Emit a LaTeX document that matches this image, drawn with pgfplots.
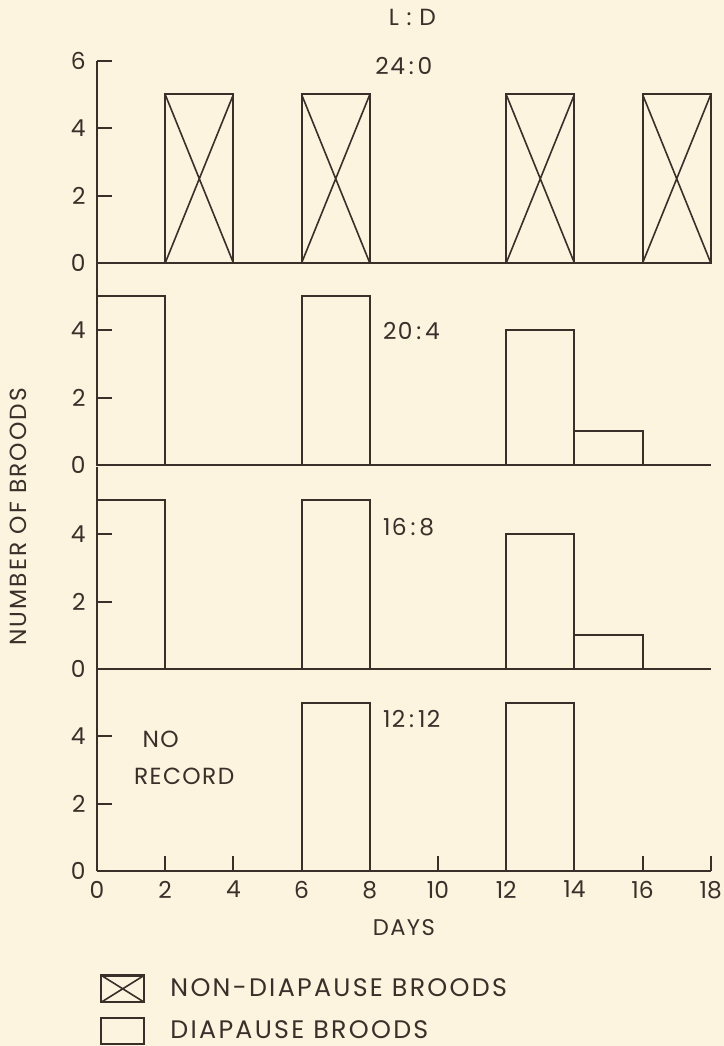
\documentclass[border=0pt]{standalone}
\usepackage{fontspec}
\setmainfont{Poppins}
\newfontfamily\spaced{Poppins}[LetterSpace=6]
\newfontfamily\wide{Poppins}[LetterSpace=9]
\usepackage{pgfplots}
\pgfplotsset{compat=1.18}
\definecolor{ink}{HTML}{3A302A}
\definecolor{paper}{HTML}{FCF4DF}
\tikzset{lab/.style={font=\spaced\fontsize{17.5}{20}\selectfont, text=ink}}
\begin{document}
\begin{tikzpicture}
\path[use as bounding box, fill=paper] (0,0) rectangle (543pt,784.5pt);
\pgfplotsset{
 panel/.style={
  x=25.575pt, y=25.275pt,
  xmin=0,xmax=18,ymin=0,ymax=6,
  axis x line*=bottom, axis y line*=left,
  axis line style={draw=ink, line width=1.6pt, -},
  tick align=inside,
  major tick length=11pt,
  tick style={draw=ink, line width=1.4pt},
  xtick=\empty, ytick={0,2,4},
  ticklabel style={font=\fontsize{17.5}{20}\selectfont, text=ink},
  /pgf/number format/assume math mode=true,
  yticklabel style={xshift=-5pt},
  clip=false,
  anchor=south west,
 },
 bars/.style={ybar, bar width=2, draw=ink, fill=none, line width=1.5pt},
 crosses/.style={draw=ink, line width=1.2pt, unbounded coords=jump},
}
% Panel 1: 24:0
\begin{axis}[panel, at={(72.75pt,587.25pt)}, ytick={0,2,4,6}]
\addplot[bars] coordinates {(3,5) (7,5) (13,5) (17,5)};
\addplot[crosses] coordinates {(2,0) (4,5) (3,nan) (2,5) (4,0) (3,nan)
 (6,0) (8,5) (7,nan) (6,5) (8,0) (7,nan)
 (12,0) (14,5) (13,nan) (12,5) (14,0) (13,nan)
 (16,0) (18,5) (17,nan) (16,5) (18,0)};
\node[lab] at (axis cs:9.0,5.85) {24\,:\,0};
\node[lab] at (axis cs:9.25,7.3) {L\,\,:\,\,D};
\end{axis}
% Panel 2: 20:4
\begin{axis}[panel, at={(72.75pt,435.75pt)}]
\addplot[bars] coordinates {(1,5) (7,5) (13,4) (15,1)};
\node[lab, anchor=west] at (axis cs:8.25,3.98) {20\,:\,4};
\end{axis}
% Panel 3: 16:8
\begin{axis}[panel, at={(72.75pt,282.75pt)},
 ylabel={NUMBER OF BROODS},
 ylabel style={at={(axis description cs:-0.1287,0.752)}, anchor=center, font=\wide\fontsize{17.5}{20}\selectfont, text=ink}]
\addplot[bars] coordinates {(1,5) (7,5) (13,4) (15,1)};
\node[lab, anchor=west] at (axis cs:8.25,4.2) {16\,:\,8};
\end{axis}
% Panel 4: 12:12
\begin{axis}[panel, at={(72.75pt,131.25pt)},
 xtick={0,2,...,18},
 xticklabel style={yshift=-4pt},
 xlabel={DAYS},
 xlabel style={at={(axis description cs:0.5,-0.282)}, anchor=center, font=\spaced\fontsize{17}{20}\selectfont, text=ink},
 legend style={at={(axis description cs:0.005,-0.51)}, anchor=north west, draw=none, fill=none, inner sep=0pt,
   font=\wide\fontsize{19}{22}\selectfont, text=ink, row sep=10pt, legend cell align=left},
]
\addplot[bars, forget plot] coordinates {(7,5) (13,5)};
\addlegendimage{legend image code/.code={
  \draw[ink, line width=1.6pt] (0pt,-10pt) rectangle (32pt,10pt);
  \draw[ink, line width=1.2pt] (0pt,-10pt) -- (32pt,10pt) (0pt,10pt) -- (32pt,-10pt);}}
\addlegendentry{\hspace{17pt}NON-DIAPAUSE BROODS}
\addlegendimage{legend image code/.code={
  \draw[ink, line width=1.6pt] (0pt,-10pt) rectangle (32pt,10pt);}}
\addlegendentry{\hspace{17pt}DIAPAUSE BROODS}
\node[lab, anchor=west] at (axis cs:8.25,4.5) {12\,:\,12};
\node[lab, anchor=west] at (axis cs:1.2,3.9) {NO};
\node[lab, anchor=west] at (axis cs:0.95,2.8) {RECORD};
\end{axis}
\end{tikzpicture}
\end{document}
